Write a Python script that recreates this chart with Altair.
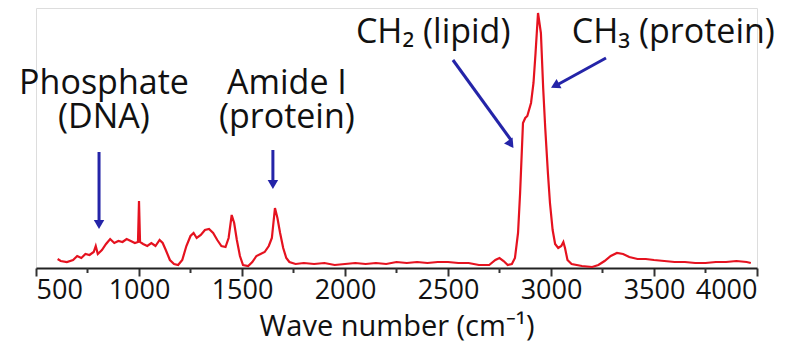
import altair as alt
import pandas as pd

# Raman spectrum (wave number, intensity in arbitrary units)
wavenumber = [605, 620, 650, 680, 700, 720, 740, 760, 780, 790, 800, 820, 840, 860, 880,
              900, 920, 940, 960, 980, 995, 1000, 1005, 1020, 1040, 1060, 1080, 1100, 1115,
              1130, 1150, 1170, 1190, 1210, 1230, 1250, 1265, 1280, 1300, 1320, 1340, 1360,
              1380, 1400, 1420, 1435, 1450, 1462, 1475, 1490, 1505, 1530, 1550, 1570, 1590,
              1610, 1630, 1645, 1660, 1672, 1685, 1700, 1715, 1730, 1760, 1800, 1850, 1900,
              1950, 2000, 2050, 2100, 2150, 2200, 2250, 2300, 2350, 2400, 2450, 2500, 2550,
              2600, 2650, 2700, 2730, 2750, 2770, 2790, 2810, 2825, 2840, 2850, 2864, 2875,
              2885, 2903, 2915, 2925, 2937, 2951, 2962, 2972, 2985, 2995, 3008, 3020, 3035,
              3050, 3060, 3068, 3080, 3100, 3150, 3200, 3230, 3260, 3290, 3320, 3350, 3380,
              3420, 3460, 3500, 3550, 3600, 3650, 3700, 3750, 3800, 3850, 3900, 3950, 3970]
intensity = [9, 7, 6, 8, 12, 10, 14, 13, 16, 22, 14, 18, 24, 29, 25,
             27, 26, 29, 27, 25, 26, 67, 26, 24, 22, 25, 22, 28, 25,
             18, 8, 4, 3, 8, 22, 32, 35, 30, 33, 38, 39, 35,
             28, 22, 21, 30, 53, 45, 28, 12, 3, 2, 6, 12, 14,
             16, 22, 30, 60, 50, 35, 20, 10, 6, 4, 5, 4, 5,
             3, 4, 5, 4, 5, 4, 6, 5, 6, 5, 6, 6, 5,
             5, 3, 3, 8, 10, 7, 3, 4, 10, 35, 75, 145, 150,
             152, 165, 185, 215, 255, 235, 180, 140, 95, 65, 38, 24, 20,
             22, 26, 20, 8, 4, 2, 1, 3, 7, 12, 15, 14, 11,
             9, 9, 8, 7, 6, 6, 5, 5, 6, 6, 7, 6, 5]

major_ticks = [500, 1000, 1500, 2000, 2500, 3000, 3500, 4000]
minor_ticks = [750, 1250, 1750, 2250, 2750, 3250, 3750]

# Annotation labels (anchor = first baseline, in data coordinates)
label_text = ["Phosphate\n(DNA)", "Amide I\n(protein)", "CH\u2082 (lipid)", "CH\u2083 (protein)"]
label_x = [830, 1718, 2428, 3594]
label_y = [174, 174, 225, 225]

# Arrows: shaft start/end, head centre and head direction
arrow_x = [806, 1650, 2524, 3267]
arrow_y = [116, 118, 208, 210]
arrow_x2 = [806, 1650, 2806, 3020]
arrow_y2 = [48, 88, 128, 182]
head_x = [806, 1650, 2801, 3026]
head_y = [45, 85, 125, 183]
head_angle = [180, 180, 145, 242]

spec = pd.DataFrame({"w": wavenumber, "i": intensity})
minor = pd.DataFrame({"w": minor_ticks, "y0": [0] * len(minor_ticks), "y1": [-5] * len(minor_ticks)})
labels = pd.DataFrame({"t": label_text, "x": label_x, "y": label_y})
arrows = pd.DataFrame({"x": arrow_x, "y": arrow_y, "x2": arrow_x2, "y2": arrow_y2})
heads = pd.DataFrame({"x": head_x, "y": head_y, "a": head_angle})

FONT = "Open Sans"
RED = "#e5121f"
BLUE = "#2424a8"

xscale = alt.Scale(domain=[500, 4000], nice=False, zero=False)
yscale = alt.Scale(domain=[0, 260], nice=False, zero=False)

line = alt.Chart(spec).mark_line(color=RED, strokeWidth=2.2).encode(
    x=alt.X("w:Q", scale=xscale,
            axis=alt.Axis(values=major_ticks, format="d", title="Wave number (cm\u207b\u00b9)",
                          grid=False, tickSize=8, tickWidth=2, domainWidth=2,
                          domainColor="#222222", tickColor="#333333",
                          labelFont=FONT, labelFontSize=27, labelColor="#111111",
                          labelPadding=1, titleFont=FONT, titleFontSize=29,
                          titleFontWeight="normal", titleColor="#111111", titlePadding=9)),
    y=alt.Y("i:Q", scale=yscale, axis=None),
)

minor_rules = alt.Chart(minor).mark_rule(color="#333333", strokeWidth=2).encode(
    x=alt.X("w:Q", scale=xscale), y=alt.Y("y0:Q", scale=yscale), y2="y1:Q"
)

text = alt.Chart(labels).mark_text(font=FONT, fontSize=34, color="#111111",
                                   align="center", baseline="alphabetic",
                                   lineBreak="\n", lineHeight=34).encode(
    x=alt.X("x:Q", scale=xscale), y=alt.Y("y:Q", scale=yscale), text="t:N"
)

shafts = alt.Chart(arrows).mark_rule(color=BLUE, strokeWidth=3).encode(
    x=alt.X("x:Q", scale=xscale), y=alt.Y("y:Q", scale=yscale), x2="x2:Q", y2="y2:Q"
)

arrowheads = alt.Chart(heads).mark_point(shape="triangle", filled=True, color=BLUE,
                                         opacity=1, size=110).encode(
    x=alt.X("x:Q", scale=xscale), y=alt.Y("y:Q", scale=yscale), angle=alt.Angle("a:Q", scale=None)
)

chart = alt.layer(line, minor_rules, shafts, arrowheads, text).properties(
    width=721, height=260,
    autosize=alt.AutoSizeParams(type="none"),
    padding={"left": 28, "top": 0, "right": 27, "bottom": 76},
).configure_view(stroke=None).configure(background="white")

chart.save("out.html", embed_options={"renderer": "svg", "actions": False})
